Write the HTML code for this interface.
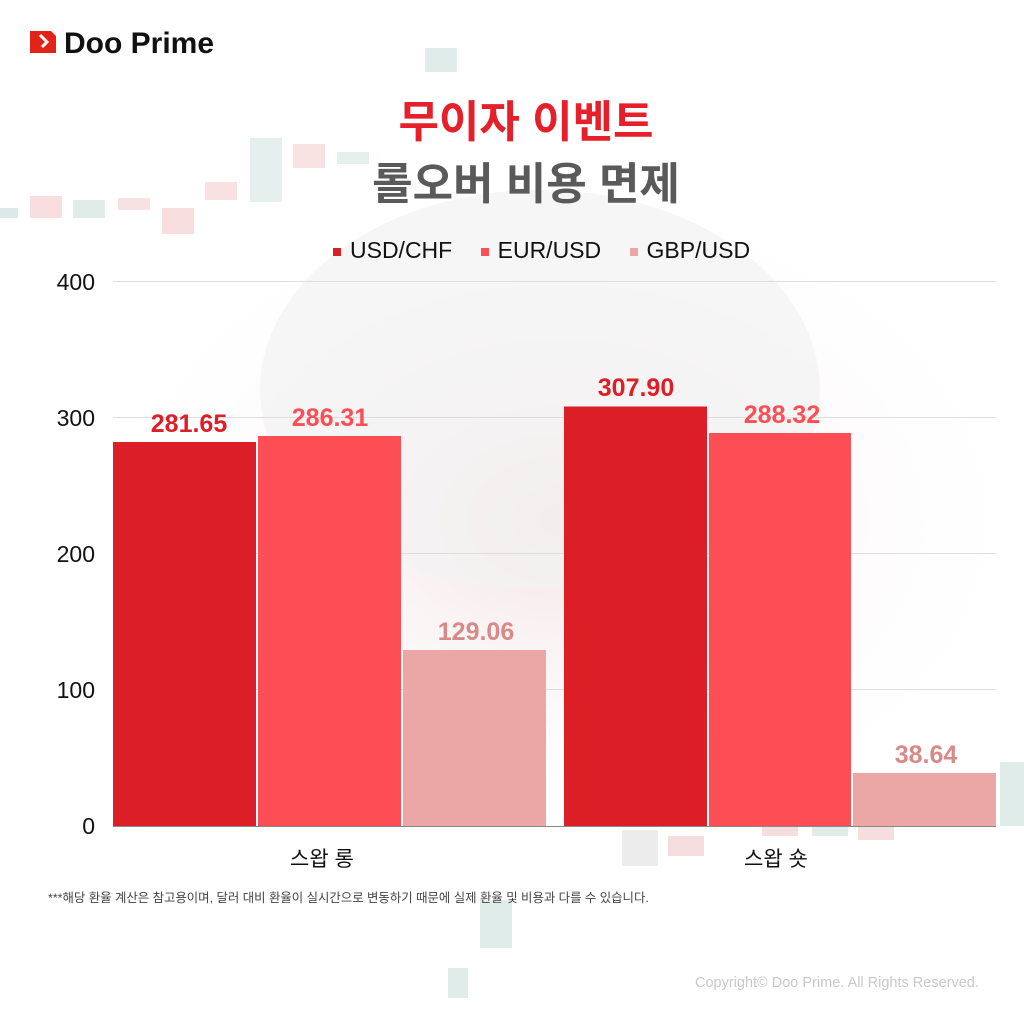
<!DOCTYPE html>
<html><head><meta charset="utf-8"><style>
body{margin:0;width:1024px;height:1024px;overflow:hidden;background:#fff;font-family:"Liberation Sans","Noto Sans CJK KR",sans-serif;}
.a{position:absolute}
</style></head><body>
<div class="a" style="left:0;top:0;width:1024px;height:1024px">
<svg width="1024" height="1024" style="position:absolute;left:0;top:0">
 <defs><radialGradient id="g" cx="0.5" cy="0.5" r="0.5"><stop offset="0" stop-color="#f3e3e3"/><stop offset="1" stop-color="#fff" stop-opacity="0"/></radialGradient></defs>
 <ellipse cx="560" cy="520" rx="480" ry="340" fill="url(#g)"/>
 <ellipse cx="540" cy="390" rx="280" ry="200" fill="#f2f2f2" opacity="0.7"/>
 <rect x="0" y="208" width="18" height="10" fill="#dde9e8"/>
 <rect x="30" y="196" width="32" height="22" fill="#f8dede"/>
 <rect x="73" y="200" width="32" height="18" fill="#e0ecea"/>
 <rect x="118" y="198" width="32" height="12" fill="#f8e1e1"/>
 <rect x="162" y="208" width="32" height="26" fill="#f8dede"/>
 <rect x="205" y="182" width="32" height="18" fill="#f8e1e1"/>
 <rect x="250" y="138" width="32" height="64" fill="#e5efee"/>
 <rect x="293" y="144" width="32" height="24" fill="#f9e2e2"/>
 <rect x="337" y="152" width="32" height="12" fill="#e5efee"/>
 <rect x="425" y="48" width="32" height="24" fill="#e0ecea"/>
 <rect x="480" y="900" width="32" height="48" fill="#e0ecea"/>
 <rect x="448" y="968" width="20" height="30" fill="#e0ecea"/>
 <rect x="1000" y="762" width="24" height="64" fill="#e0ecea"/>
 <rect x="622" y="830" width="36" height="36" fill="#ececec"/>
 <rect x="668" y="836" width="36" height="20" fill="#f6dede"/>
 <rect x="762" y="826" width="36" height="10" fill="#f6dede"/>
 <rect x="812" y="826" width="36" height="10" fill="#e0ecea"/>
 <rect x="858" y="826" width="36" height="14" fill="#f6dede"/>
 <g stroke="#dedede" stroke-width="1">
  <line x1="113" y1="281.5" x2="996" y2="281.5"/>
  <line x1="113" y1="417.5" x2="996" y2="417.5"/>
  <line x1="113" y1="553.5" x2="996" y2="553.5"/>
  <line x1="113" y1="689.5" x2="996" y2="689.5"/>
 </g>
 <line x1="113" y1="826.5" x2="996" y2="826.5" stroke="#888"/>
 <g>
  <rect x="113" y="442" width="143" height="384" fill="#dc1f26"/>
  <rect x="258" y="436" width="143" height="390" fill="#fd4d55"/>
  <rect x="403" y="650" width="143" height="176" fill="#eba7a5"/>
  <rect x="564" y="406.5" width="143" height="419.5" fill="#dc1f26"/>
  <rect x="709" y="433" width="142" height="393" fill="#fd4d55"/>
  <rect x="853" y="773" width="143" height="53" fill="#eba7a5"/>
 </g>
 <g font-family="Liberation Sans, sans-serif" font-weight="bold" font-size="25" text-anchor="middle">
  <text x="189" y="432" fill="#dc1f26">281.65</text>
  <text x="330" y="426" fill="#fd4d55">286.31</text>
  <text x="476" y="640" fill="#d98a88">129.06</text>
  <text x="636" y="396" fill="#dc1f26">307.90</text>
  <text x="782" y="423" fill="#fd4d55">288.32</text>
  <text x="926" y="763" fill="#d98a88">38.64</text>
 </g>
 <g font-family="Liberation Sans, sans-serif" font-size="23" fill="#111" text-anchor="end">
  <text x="95" y="290">400</text><text x="95" y="426">300</text><text x="95" y="562">200</text><text x="95" y="698">100</text><text x="95" y="834">0</text>
 </g>
 <path d="M30 31 H51 L56 36 V53 L30 53 Z" fill="#e2231a"/>
 <path d="M40 35 L47 42 L42 47" stroke="#fff" stroke-width="3" fill="none"/>
</svg>
<div class="a" style="left:64px;top:27px;font-size:30px;font-weight:bold;color:#111;letter-spacing:0px">Doo Prime</div>
<div class="a" style="left:0;width:1052px;top:86px;text-align:center;font-size:44px;font-weight:bold;color:#e5202a">무이자 이벤트</div>
<div class="a" style="left:0;width:1052px;top:148px;text-align:center;font-size:44px;font-weight:bold;color:#5a5a5a">롤오버 비용 면제</div>
<div class="a" style="left:333px;top:237px;font-size:23px;color:#111;white-space:nowrap">
 <span style="display:inline-block;width:8px;height:8px;background:#dc1f26;margin-right:9px;vertical-align:middle"></span>USD/CHF
 <span style="display:inline-block;width:8px;height:8px;background:#fd4d55;margin:0 9px 0 22px;vertical-align:middle"></span>EUR/USD
 <span style="display:inline-block;width:8px;height:8px;background:#eba7a5;margin:0 9px 0 22px;vertical-align:middle"></span>GBP/USD
</div>
<div class="a" style="left:290px;top:843px;font-size:21px;color:#111">스왑 롱</div>
<div class="a" style="left:744px;top:843px;font-size:21px;color:#111">스왑 숏</div>
<div class="a" style="left:48px;top:888px;font-size:12.4px;color:#444;white-space:nowrap">***해당 환율 계산은 참고용이며, 달러 대비 환율이 실시간으로 변동하기 때문에 실제 환율 및 비용과 다를 수 있습니다.</div>
<div class="a" style="left:695px;top:975px;font-size:14.5px;color:#c8c8c8;white-space:nowrap">Copyright© Doo Prime. All Rights Reserved.</div>
</div>
</body></html>
